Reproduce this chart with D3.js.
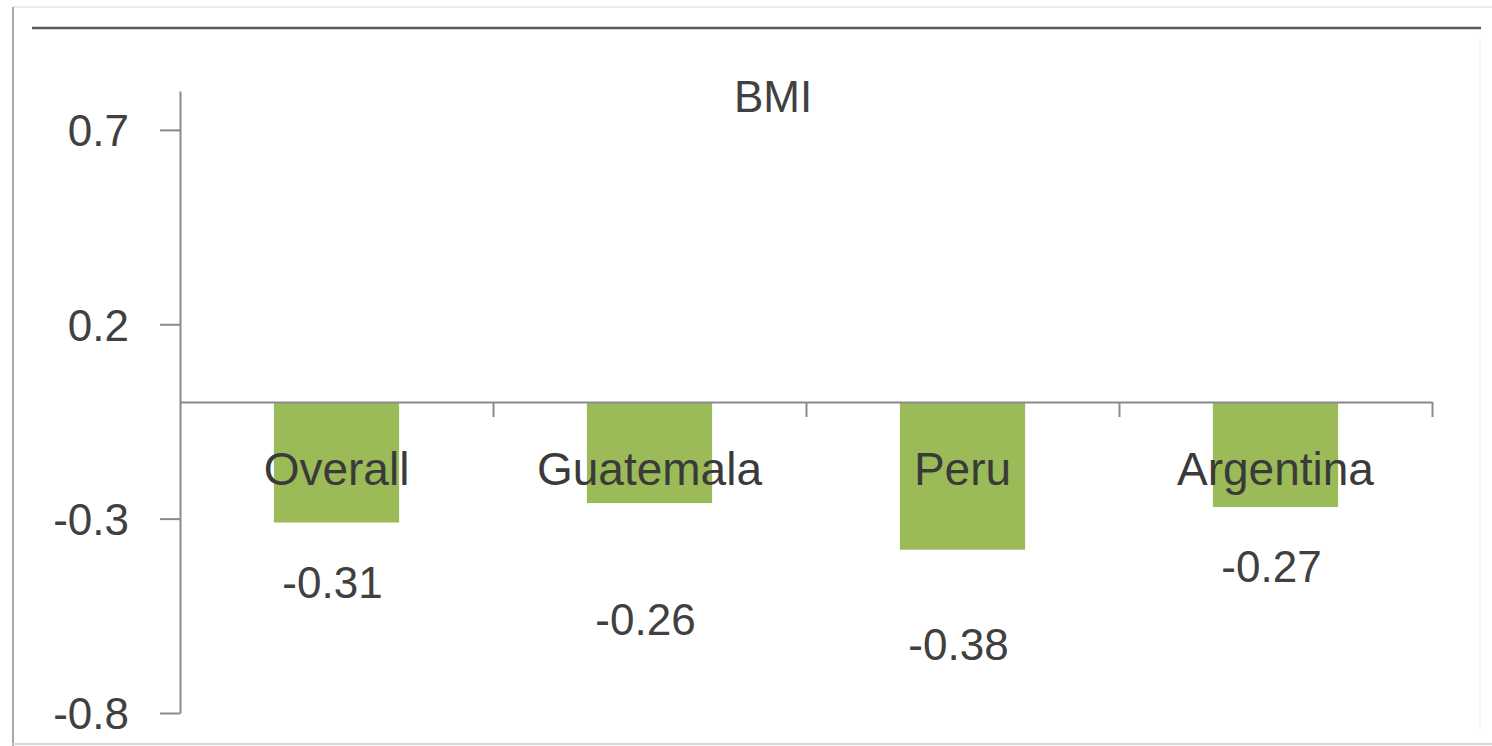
<!DOCTYPE html>
<html>
<head>
<meta charset="utf-8">
<script src="https://cdn.jsdelivr.net/npm/d3@7"></script>
<style>
  html, body { margin: 0; padding: 0; background: #ffffff; }
  svg { display: block; }
  text { font-family: "Liberation Sans", Arial, sans-serif; }
</style>
</head>
<body>
<svg id="chart" width="1492" height="746"></svg>
<script>
// BMI effect by country
const categories = ["Overall", "Guatemala", "Peru", "Argentina"];
const bmiValues = [-0.31, -0.26, -0.38, -0.27];
const valueLabels = ["-0.31", "-0.26", "-0.38", "-0.27"];
const yTickValues = [-0.8, -0.3, 0.2, 0.7];
const yTickLabels = ["-0.8", "-0.3", "0.2", "0.7"];
const chartTitle = "BMI";

const svg = d3.select("#chart");

// plot area
const plot = { left: 180, right: 1432, top: 91, bottom: 713 };

// outer frame
svg.append("line").attr("x1", 13).attr("x2", 1492).attr("y1", 7).attr("y2", 7)
  .attr("stroke", "#ececec").attr("stroke-width", 2);
svg.append("line").attr("x1", 13).attr("x2", 13).attr("y1", 7).attr("y2", 746)
  .attr("stroke", "#a8a8a8").attr("stroke-width", 2);
svg.append("line").attr("x1", 13).attr("x2", 1492).attr("y1", 744).attr("y2", 744)
  .attr("stroke", "#d8d8d8").attr("stroke-width", 2);
svg.append("line").attr("x1", 1480).attr("x2", 1480).attr("y1", 38).attr("y2", 730)
  .attr("stroke", "#f3f3f3").attr("stroke-width", 1.5);
svg.append("line").attr("x1", 32).attr("x2", 1481).attr("y1", 28).attr("y2", 28)
  .attr("stroke", "#5a5a5a").attr("stroke-width", 2.5);

const y = d3.scaleLinear().domain([-0.8, 0.8]).range([plot.bottom, plot.top]);
const x = d3.scaleBand().domain(categories)
  .range([plot.left, plot.right]).paddingInner(0.6).paddingOuter(0.3);

const axisColor = "#8a8a8a";
const textColor = "#404040";

// bars
svg.append("g").selectAll("rect")
  .data(categories)
  .join("rect")
  .attr("x", d => x(d))
  .attr("width", x.bandwidth())
  .attr("y", (d, i) => y(Math.max(0, bmiValues[i])))
  .attr("height", (d, i) => Math.abs(y(bmiValues[i]) - y(0)))
  .attr("fill", "#9BBB59");

// y axis
const yAxis = d3.axisLeft(y)
  .tickValues(yTickValues)
  .tickFormat((d, i) => yTickLabels[i])
  .tickSize(20)
  .tickSizeOuter(0)
  .tickPadding(31);
const gy = svg.append("g").attr("transform", `translate(${plot.left},0)`).call(yAxis);
gy.select(".domain").attr("stroke", axisColor).attr("stroke-width", 2);
gy.selectAll(".tick line").attr("stroke", axisColor).attr("stroke-width", 2);
gy.selectAll(".tick text").attr("fill", textColor)
  .style("font-size", "44px").attr("dy", "0.36em");

// x axis along zero, with ticks at category boundaries
const xb = d3.scaleLinear().domain([0, categories.length]).range([plot.left, plot.right]);
const xAxis = d3.axisBottom(xb)
  .tickValues(d3.range(1, categories.length + 1))
  .tickFormat("")
  .tickSize(15)
  .tickSizeOuter(0);
const gx = svg.append("g").attr("transform", `translate(0,${y(0)})`).call(xAxis);
gx.select(".domain").attr("stroke", axisColor).attr("stroke-width", 2);
gx.selectAll(".tick line").attr("stroke", axisColor).attr("stroke-width", 2);

// category names, drawn over the bars
svg.append("g").selectAll("text")
  .data(categories)
  .join("text")
  .attr("x", d => x(d) + x.bandwidth() / 2)
  .attr("y", y(0) + 83)
  .attr("text-anchor", "middle")
  .attr("fill", "#3a3a3a")
  .style("font-size", "46px")
  .text(d => d);

// value labels, dropped below each bar end
const labelDrop = [75, 132, 110, 75];
svg.append("g").selectAll("text")
  .data(categories)
  .join("text")
  .attr("x", d => x(d) + x.bandwidth() / 2 - 4)
  .attr("y", (d, i) => y(bmiValues[i]) + labelDrop[i])
  .attr("text-anchor", "middle")
  .attr("fill", textColor)
  .style("font-size", "44px")
  .text((d, i) => valueLabels[i]);

// title
svg.append("text")
  .attr("x", 773).attr("y", 112)
  .attr("text-anchor", "middle")
  .attr("fill", textColor)
  .style("font-size", "44px")
  .text(chartTitle);
</script>
</body>
</html>
